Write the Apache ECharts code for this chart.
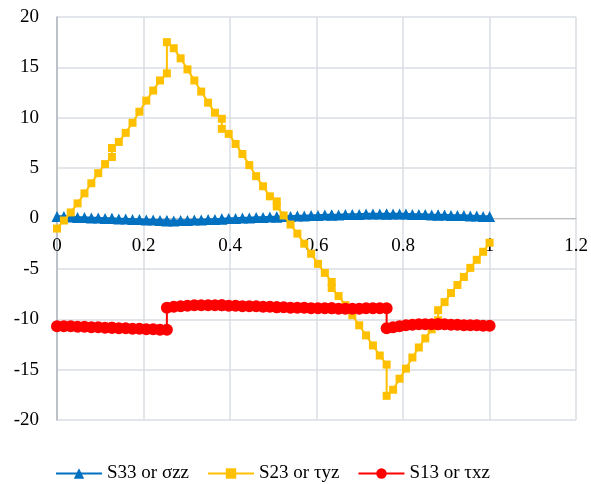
<!DOCTYPE html>
<html>
<head>
<meta charset="utf-8">
<script src="https://cdn.jsdelivr.net/npm/echarts@6/dist/echarts.min.js"></script>
<style>
  html, body { margin: 0; padding: 0; background: #ffffff; }
  #chart { width: 591px; height: 484px; }
</style>
</head>
<body>
<div id="chart"></div>
<script>
// Through-thickness path positions (8 elements, 9 nodes each; shared x at element boundaries)
const pathX = [
  0, 0.0159, 0.0318, 0.0476, 0.0635, 0.0794, 0.0953, 0.1111, 0.127,
  0.127, 0.1429, 0.1588, 0.1746, 0.1905, 0.2064, 0.2223, 0.2381, 0.254,
  0.254, 0.2699, 0.2858, 0.3016, 0.3175, 0.3334, 0.3493, 0.3651, 0.381,
  0.381, 0.3969, 0.4128, 0.4286, 0.4445, 0.4604, 0.4763, 0.4921, 0.508,
  0.508, 0.5239, 0.5398, 0.5556, 0.5715, 0.5874, 0.6033, 0.6191, 0.635,
  0.635, 0.6509, 0.6668, 0.6826, 0.6985, 0.7144, 0.7303, 0.7461, 0.762,
  0.762, 0.7769, 0.7918, 0.8066, 0.8215, 0.8364, 0.8513, 0.8661, 0.881,
  0.881, 0.8959, 0.9108, 0.9256, 0.9405, 0.9554, 0.9703, 0.9851, 1
];

// S33 (sigma_zz)
const s33 = [
  0.2, 0.2, 0.15, 0.1, 0.1, 0.05, 0.05, 0.0, 0.0,
  0.0, -0.05, -0.05, -0.1, -0.1, -0.15, -0.15, -0.2, -0.2,
  -0.25, -0.25, -0.2, -0.2, -0.15, -0.15, -0.1, -0.1, -0.05,
  -0.05, 0.0, 0.0, 0.05, 0.05, 0.1, 0.1, 0.15, 0.15,
  0.15, 0.2, 0.2, 0.25, 0.25, 0.3, 0.3, 0.35, 0.35,
  0.35, 0.35, 0.4, 0.4, 0.4, 0.45, 0.45, 0.45, 0.45,
  0.45, 0.45, 0.45, 0.45, 0.4, 0.4, 0.4, 0.35, 0.35,
  0.35, 0.35, 0.3, 0.3, 0.3, 0.25, 0.25, 0.2, 0.2
];

// S23 (tau_yz)
const s23 = [
  -1.0, -0.2, 0.6, 1.5, 2.5, 3.5, 4.5, 5.4, 6.1,
  7.0, 7.6, 8.5, 9.5, 10.6, 11.7, 12.7, 13.7, 14.4,
  17.5, 16.9, 15.9, 14.8, 13.7, 12.6, 11.5, 10.5, 9.9,
  8.9, 8.4, 7.4, 6.4, 5.3, 4.2, 3.2, 2.2, 1.7,
  1.2, 0.3, -0.6, -1.5, -2.5, -3.5, -4.5, -5.4, -6.3,
  -6.9, -7.7, -8.6, -9.6, -10.6, -11.6, -12.6, -13.6, -14.5,
  -17.6, -17.0, -15.9, -14.9, -13.8, -12.8, -11.9, -11.0, -10.1,
  -9.1, -8.3, -7.4, -6.6, -5.8, -4.9, -4.1, -3.3, -2.4
];

// S13 (tau_xz)
const s13 = [
  -10.7, -10.7, -10.7, -10.75, -10.75, -10.8, -10.8, -10.85, -10.85,
  -10.85, -10.9, -10.9, -10.95, -10.95, -11.0, -11.0, -11.05, -11.05,
  -8.85, -8.75, -8.7, -8.65, -8.6, -8.6, -8.6, -8.6, -8.6,
  -8.6, -8.65, -8.65, -8.7, -8.7, -8.7, -8.75, -8.75, -8.8,
  -8.8, -8.8, -8.85, -8.85, -8.85, -8.9, -8.9, -8.9, -8.9,
  -8.9, -8.95, -8.95, -8.95, -8.95, -8.9, -8.9, -8.9, -8.9,
  -10.9, -10.8, -10.7, -10.6, -10.55, -10.5, -10.5, -10.5, -10.5,
  -10.5, -10.5, -10.55, -10.55, -10.6, -10.6, -10.6, -10.65, -10.65
];

const xTicks = { min: 0, max: 1.2, step: 0.2 };
const yTicks = { min: -20, max: 20, step: 5 };

const seriesNames = ['S33 or σzz', 'S23 or τyz', 'S13 or τxz'];

function pairs(ys) {
  return pathX.map((x, i) => [x, ys[i]]);
}

const FONT = '"Liberation Serif", "Times New Roman", serif';
const GRID_COLOR = '#d9dce3';

const chart = echarts.init(document.getElementById('chart'), null, { renderer: 'canvas' });

chart.setOption({
  animation: false,
  backgroundColor: '#ffffff',
  grid: { left: 57, right: 12, top: 17, bottom: 64, containLabel: false },
  legend: {
    top: 459,
    left: 50,
    itemWidth: 46,
    itemHeight: 13,
    itemGap: 18,
    textStyle: { fontFamily: FONT, fontSize: 19, color: '#000000' },
    data: seriesNames
  },
  xAxis: {
    type: 'value',
    min: xTicks.min,
    max: xTicks.max,
    interval: xTicks.step,
    axisLine: { onZero: true, lineStyle: { color: '#bfbfbf', width: 1 } },
    axisTick: { show: false },
    splitLine: { show: true, lineStyle: { color: GRID_COLOR, width: 1.5 } },
    // labels sit just under the zero line, where the axis crosses
    axisLabel: {
      fontFamily: FONT, fontSize: 19, color: '#000000', margin: -183,
      formatter: v => String(Math.round(v * 10) / 10)
    }
  },
  yAxis: {
    type: 'value',
    min: yTicks.min,
    max: yTicks.max,
    interval: yTicks.step,
    axisLine: { show: true, lineStyle: { color: '#b0b4bc', width: 1.5 } },
    axisTick: { show: false },
    splitLine: { show: true, lineStyle: { color: GRID_COLOR, width: 1.5 } },
    axisLabel: { fontFamily: FONT, fontSize: 19, color: '#000000', margin: 18 }
  },
  series: [
    {
      name: seriesNames[0],
      type: 'line',
      data: pairs(s33),
      symbol: 'triangle',
      symbolSize: 11,
      showAllSymbol: true,
      itemStyle: { color: '#0070c0' },
      lineStyle: { color: '#0070c0', width: 2.5 },
      z: 3
    },
    {
      name: seriesNames[1],
      type: 'line',
      data: pairs(s23),
      symbol: 'rect',
      symbolSize: 8,
      showAllSymbol: true,
      itemStyle: { color: '#ffc000' },
      lineStyle: { color: '#ffc000', width: 2 },
      z: 4
    },
    {
      name: seriesNames[2],
      type: 'line',
      data: pairs(s13),
      symbol: 'circle',
      symbolSize: 12,
      showAllSymbol: true,
      itemStyle: { color: '#ff0000' },
      lineStyle: { color: '#ff0000', width: 2 },
      z: 5
    }
  ]
});
</script>
</body>
</html>
